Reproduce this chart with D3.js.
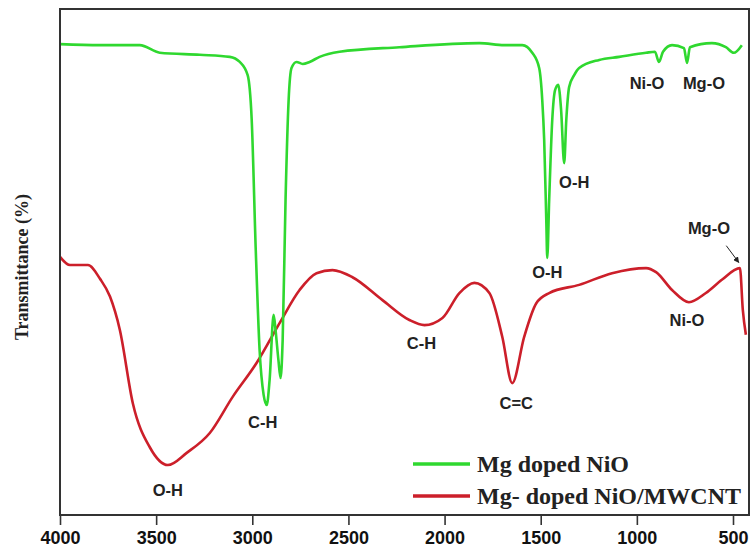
<!DOCTYPE html>
<html>
<head>
<meta charset="utf-8">
<script src="https://cdn.jsdelivr.net/npm/d3@7"></script>
<style>
  body { margin: 0; background: #fff; }
  svg { display: block; }
</style>
</head>
<body>
<div id="ftir_chart"></div>
<script>

// wavenumber (cm-1) and transmittance (arbitrary %)
var greenWave = [4000,3792,3585,3481,3273,3117,3065,3024,3003,2982,2962,2941,2925,2910,2889,2879,2864,2853,2842,2827,2811,2796,2770,2738,2702,2650,2546,2235,1819,1690,1596,1544,1508,1492,1482,1471,1466,1456,1440,1425,1409,1394,1378,1367,1352,1326,1300,1196,1092,952,906,885,864,817,755,739,724,610,537,496,454];
var greenValue = [93.1,92.9,92.9,91.4,91.0,90.6,89.6,87.0,78.2,52.7,33.0,24.2,22.2,27.1,39.9,36.9,31.0,27.5,35.0,62.5,82.1,88.4,89.6,89.2,89.6,90.6,91.6,92.5,93.3,92.9,92.9,91.4,88.4,82.1,74.3,58.5,51.1,62.5,78.2,84.1,85.1,80.2,69.7,78.2,84.7,87.0,88.4,90.0,90.6,91.4,91.6,89.6,91.6,92.9,92.3,89.4,92.5,93.3,92.5,91.4,92.9];

var redWave = [4000,3948,3855,3792,3740,3689,3621,3533,3439,3341,3221,3102,2977,2858,2754,2666,2583,2479,2323,2183,2105,2011,1923,1845,1767,1700,1648,1586,1523,1456,1300,1129,952,900,817,729,641,558,464,449,433];
var redValue = [51.3,49.7,49.7,47.0,43.5,37.0,22.5,13.9,10.4,12.8,16.7,23.8,30.5,38.3,44.8,48.1,48.7,47.3,42.8,38.9,37.9,39.3,44.2,46.2,44.2,35.6,26.5,35.6,42.2,44.2,45.8,48.1,49.1,48.3,44.8,42.4,44.2,46.8,49.1,40.9,36.0];

var tickValues = [4000,3500,3000,2500,2000,1500,1000,500];

var seriesNames = ["Mg doped NiO", "Mg- doped NiO/MWCNT"];
var seriesColors = ["#2fd82f", "#cc1f2a"];

// peak labels: text, wavenumber, transmittance
var labelText = ["C-H","O-H","O-H","Ni-O","Mg-O","O-H","C-H","C=C","Ni-O","Mg-O"];
var labelWave = [2946,1466,1326,947,651,3439,2120,1627,739,625];
var labelValue = [18.9,48.3,66.0,85.5,85.5,5.5,34.4,22.6,38.9,57.0];

plot_ftir("#ftir_chart");

function plot_ftir(htmlObjectId) {
    var width = 750;
    var height = 554;
    var left = 60, right = 749, top = 9, bottom = 515;

    var xScale = d3.scaleLinear()
                    .domain([4000, 500])
                    .range([left, 733]);

    var yScale = d3.scaleLinear()
                    .domain([0, 100])
                    .range([518, 9]);

    var canvas = d3.select(htmlObjectId)
                    .append("svg")
                    .attr("width", width)
                    .attr("height", height);

    var defs = canvas.append("defs");
    defs.append("clipPath")
            .attr("id", "plotClip")
          .append("rect")
            .attr("x", left)
            .attr("y", top)
            .attr("width", right - left)
            .attr("height", bottom - top);

    defs.append("marker")
        .attr("id", "arrowHead")
        .attr("viewBox", "0 0 10 10")
        .attr("refX", 9).attr("refY", 5)
        .attr("markerWidth", 6).attr("markerHeight", 6)
        .attr("orient", "auto")
      .append("path")
        .attr("d", "M0,0 L10,5 L0,10 z")
        .attr("fill", "#222");

    var line = d3.line()
                .x(function(d) { return xScale(d[0]); })
                .y(function(d) { return yScale(d[1]); })
                .curve(d3.curveMonotoneX);

    var greenData = greenWave.map(function(w, i) { return [w, greenValue[i]]; });
    var redData = redWave.map(function(w, i) { return [w, redValue[i]]; });

    var plot = canvas.append("g").attr("clip-path", "url(#plotClip)");

    plot.append("path")
        .datum(redData)
        .attr("d", line)
        .attr("fill", "none")
        .attr("stroke", seriesColors[1])
        .attr("stroke-width", 2.6)
        .attr("stroke-linejoin", "round");

    plot.append("path")
        .datum(greenData)
        .attr("d", line)
        .attr("fill", "none")
        .attr("stroke", seriesColors[0])
        .attr("stroke-width", 2.6)
        .attr("stroke-linejoin", "round");

    // frame
    canvas.append("rect")
        .attr("x", left)
        .attr("y", top)
        .attr("width", right - left)
        .attr("height", bottom - top)
        .attr("fill", "none")
        .attr("stroke", "#333")
        .attr("stroke-width", 2);

    var axis = d3.axisBottom(xScale)
                .tickValues(tickValues)
                .tickSize(10)
                .tickPadding(6)
                .tickFormat(d3.format("d"));

    var axisG = canvas.append("g")
        .attr("transform", "translate(0," + bottom + ")")
        .call(axis);
    axisG.select(".domain").remove();
    axisG.selectAll("line").attr("stroke", "#333").attr("stroke-width", 1.6);
    axisG.selectAll("text")
        .attr("fill", "#111")
        .style("font-family", "Arial, 'Liberation Sans', sans-serif")
        .style("font-weight", "bold")
        .style("font-size", "18px");

    canvas.append("text")
        .attr("transform", "translate(28,267) rotate(-90)")
        .attr("text-anchor", "middle")
        .style("font-family", "'Times New Roman', 'Liberation Serif', serif")
        .style("font-weight", "bold")
        .style("font-size", "18px")
        .attr("fill", "#222")
        .text("Transmittance (%)");

    canvas.selectAll(".peak")
        .data(labelText)
        .enter()
            .append("text")
            .attr("class", "peak")
            .attr("x", function(d, i) { return xScale(labelWave[i]); })
            .attr("y", function(d, i) { return yScale(labelValue[i]); })
            .attr("text-anchor", "middle")
            .attr("dominant-baseline", "central")
            .style("font-family", "Arial, 'Liberation Sans', sans-serif")
            .style("font-weight", "bold")
            .style("font-size", "16.5px")
            .attr("fill", "#222")
            .text(function(d) { return d; });

    // arrow to the Mg-O band of the red curve
    canvas.append("line")
        .attr("x1", xScale(535)).attr("y1", yScale(53.5))
        .attr("x2", xScale(470)).attr("y2", yScale(50.2))
        .attr("stroke", "#222")
        .attr("stroke-width", 1)
        .attr("marker-end", "url(#arrowHead)");

    // legend
    var legend = canvas.selectAll(".legend")
        .data(seriesNames)
        .enter()
            .append("g")
            .attr("class", "legend")
            .attr("transform", function(d, i) { return "translate(413," + (464 + i * 32) + ")"; });

    legend.append("line")
        .attr("x1", 0).attr("x2", 57)
        .attr("stroke", function(d, i) { return seriesColors[i]; })
        .attr("stroke-width", 3.5);

    legend.append("text")
        .attr("x", 64)
        .attr("dominant-baseline", "central")
        .style("font-family", "'Times New Roman', 'Liberation Serif', serif")
        .style("font-weight", "bold")
        .style("font-size", "24px")
        .attr("fill", "#222")
        .text(function(d) { return d; });
}
</script>
</body>
</html>
